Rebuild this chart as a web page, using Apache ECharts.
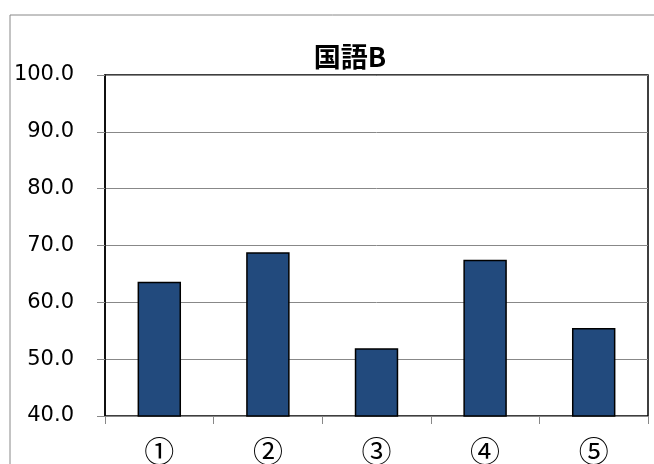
<!DOCTYPE html>
<html>
	<head>
		<meta charset="UTF-8">
		<title>国語B</title>
		<script src="https://cdn.jsdelivr.net/npm/echarts@6/dist/echarts.min.js"></script>
		<style type="text/css">
			html, body { margin: 0; padding: 0; background: #fff; }
			#main { width: 654px; height: 464px; }
		</style>
	</head>
	<body>
		<div id="main"></div>
		<script type="text/javascript">
			// 設問ごとの得点
			var categories = ['①', '②', '③', '④', '⑤'];
			var scores = [63.6, 68.8, 51.9, 67.5, 55.5];
			var yMin = 40, yMax = 100, yStep = 10;

			var myChart = echarts.init(document.getElementById('main'));
			var font = '"DejaVu Sans", "Noto Sans CJK JP", sans-serif';
			var option = {
				animation: false,
				title: {
					text: '国語B',
					left: 345,
					textAlign: 'center',
					top: 38,
					textStyle: {
						fontFamily: '"Noto Sans CJK JP", sans-serif',
						fontSize: 27,
						fontWeight: 'bold',
						color: '#000'
					}
				},
				graphic: [{
					type: 'rect',
					shape: { x: 10, y: 15, width: 700, height: 500 },
					style: { fill: 'none', stroke: '#888', lineWidth: 1 }
				}],
				grid: {
					left: 105,
					top: 75,
					right: 6,
					bottom: 48,
					outerBoundsMode: 'none',
					show: true,
					borderColor: '#000',
					borderWidth: 1.5
				},
				xAxis: {
					type: 'category',
					data: categories,
					axisLine: { lineStyle: { color: '#888', width: 1 } },
					axisTick: { show: true, length: 8, lineStyle: { color: '#888' } },
					axisLabel: {
						margin: 20,
						fontSize: 30,
						color: '#000',
						fontFamily: '"Noto Sans CJK JP", sans-serif'
					}
				},
				yAxis: {
					type: 'value',
					min: yMin,
					max: yMax,
					interval: yStep,
					axisLine: { show: true, lineStyle: { color: '#000', width: 1.5 } },
					axisTick: { show: true, length: 8, lineStyle: { color: '#888' } },
					splitLine: { lineStyle: { color: '#888', width: 1 } },
					axisLabel: {
						margin: 31,
						fontSize: 21,
						color: '#000',
						fontFamily: font,
						formatter: function(v) { return v.toFixed(1); }
					}
				},
				series: [{
					type: 'bar',
					data: scores,
					barWidth: '40%',
					itemStyle: {
						color: '#224A7D',
						borderColor: '#000',
						borderWidth: 1.5
					}
				}]
			};
			myChart.setOption(option);
		</script>
	</body>
</html>
